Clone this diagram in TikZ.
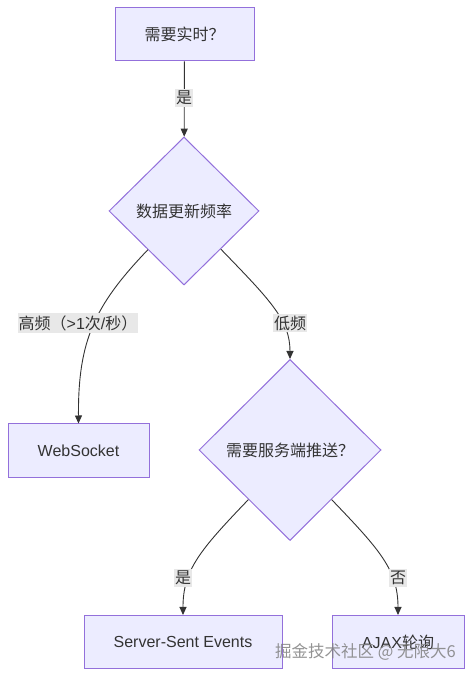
\documentclass[tikz,border=0pt]{standalone}
\usepackage{fontspec}
\setmainfont{Liberation Sans}
\newfontfamily\cjk{Noto Sans CJK SC}
\usetikzlibrary{shapes.geometric,arrows.meta}
\definecolor{nodofondo}{HTML}{ECECFF}
\definecolor{nodoborde}{HTML}{9370DB}
\definecolor{texto}{HTML}{333333}
\definecolor{etiqfondo}{HTML}{E8E8E8}
\begin{document}
\begin{tikzpicture}[x=1pt, y=1pt,
        caja/.style={draw=nodoborde, fill=nodofondo, line width=1pt, text=texto,
            font=\fontsize{16}{19}\selectfont, inner sep=0pt},
        rombo/.style={caja, diamond},
        etiq/.style={fill=etiqfondo, text=texto, font=\fontsize{16}{19}\selectfont,
            inner xsep=1pt, inner ysep=2pt},
        flecha/.style={draw=texto, line width=0.9pt, -{Triangle[length=8pt,width=7pt]}}]
            % Marco
            \useasboundingbox (0,0) rectangle (472,678);
            % Nodos
            \node[caja, minimum width=139pt, minimum height=53pt] (tiempo) at (184.5,643.5) {\cjk 需要实时？};
            \node[rombo, minimum width=150pt, minimum height=148pt] (frecuencia) at (184,467) {\cjk 数据更新频率};
            \node[caja, minimum width=141pt, minimum height=54pt] (ws) at (78.5,227) {WebSocket};
            \node[rombo, minimum width=182pt, minimum height=181pt] (empuje) at (290,228) {\cjk 需要服务端推送？};
            \node[caja, minimum width=198pt, minimum height=53pt] (sse) at (183,36) {Server-Sent Events};
            \node[caja, minimum width=132pt, minimum height=53pt] (ajax) at (398,36) {AJAX{\cjk 轮询}};
            % Conectores
            \draw[flecha] (tiempo) -- (frecuencia);
            \draw[flecha] (frecuencia.227) .. controls (95,373) and (78,338) .. (ws.north);
            \draw[flecha] (frecuencia.314) .. controls (270,378) and (290,358) .. (empuje.north);
            \draw[flecha] (empuje.230) .. controls (200,128) and (183,108) .. (sse.north);
            \draw[flecha] (empuje.310) .. controls (380,128) and (398,108) .. (ajax.north);
            % Etiquetas
            \node[etiq] (si1) at (184,580) {\cjk 是};
            \node[etiq] (alta) at (78,355) {{\cjk 高频（}>1{\cjk 次}/{\cjk 秒）}};
            \node[etiq] (baja) at (290,355) {\cjk 低频};
            \node[etiq] (si2) at (183,100) {\cjk 是};
            \node[etiq] (no) at (398,100) {\cjk 否};
            % Marca de agua
            \node[anchor=east, text=gray, opacity=0.85, font=\cjk\fontsize{16.5}{19}\selectfont, inner sep=0pt] (marca) at (456,26) {掘金技术社区 @ 无限大6};
        \end{tikzpicture}
\end{document}
